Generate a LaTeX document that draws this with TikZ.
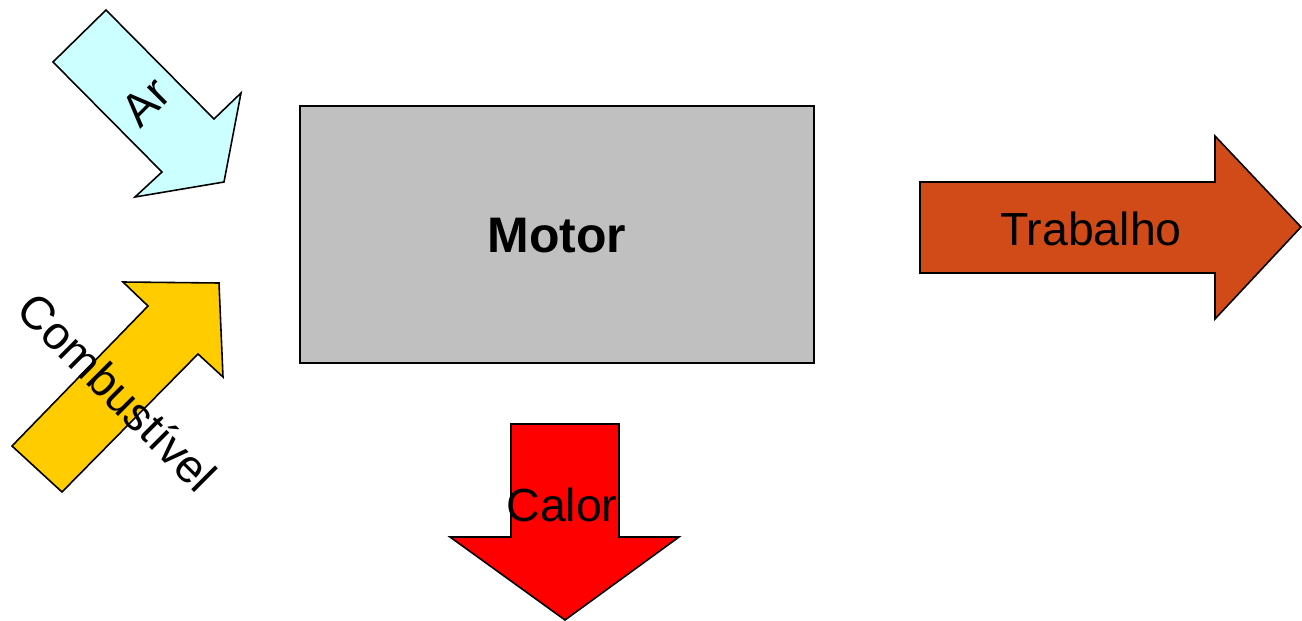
\documentclass[tikz,border=0pt]{standalone}
\usepackage{fontspec}
\setmainfont{Liberation Sans}
\usepackage{xcolor}

\definecolor{motorgray}{HTML}{C0C0C0}
\definecolor{arblue}{HTML}{CCFFFF}
\definecolor{fuelyellow}{HTML}{FFCC00}
\definecolor{workorange}{HTML}{D14B19}
\definecolor{heatred}{HTML}{FF0000}

\tikzset{
  flow/.style={draw=black, line width=0.45pt, line join=miter},
  flowlabel/.style={inner sep=0pt, font=\fontsize{13.2}{15}\selectfont}
}

\begin{document}
\begin{tikzpicture}[x=0.01cm, y=-0.01cm]
    \useasboundingbox (0,0) rectangle (1302,621);

    % Draw the engine block
    \draw[flow, fill=motorgray] (300,106) rectangle (814,363);
    \node[inner sep=0pt, font=\bfseries\fontsize{14.2}{16}\selectfont] (motor) at (557,236) {Motor};

    % Air coming in (top left)
    \draw[flow, fill=arblue] (106,10) -- (53,62) -- (162,172) -- (135,197)
        -- (224,182) -- (241,93) -- (214,119) -- cycle;
    \node[flowlabel, rotate=45] (ar) at (146,102) {Ar};

    % Fuel coming in (bottom left)
    \draw[flow, fill=fuelyellow] (123,282) -- (219,283) -- (223,377) -- (198,354)
        -- (62,492) -- (12,446) -- (148,306) -- cycle;
    \node[flowlabel, rotate=-45] (fuel) at (118,392) {Combustível};

    % Work going out (right)
    \draw[flow, fill=workorange] (920,182) -- (1215,182) -- (1215,136) -- (1301,227)
        -- (1215,319) -- (1215,273) -- (920,273) -- cycle;
    \node[flowlabel] (work) at (1091,229) {Trabalho};

    % Heat going out (bottom)
    \draw[flow, fill=heatred] (511,424) -- (619,424) -- (619,537) -- (679,537)
        -- (565,620) -- (450,537) -- (511,537) -- cycle;
    \node[flowlabel] (heat) at (562,505) {Calor};
\end{tikzpicture}
\end{document}
